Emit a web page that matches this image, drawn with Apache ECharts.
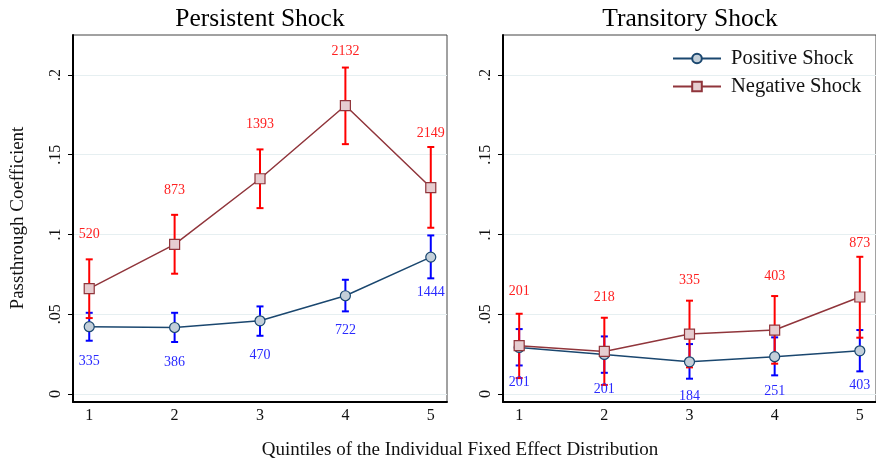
<!DOCTYPE html>
<html>
<head>
<meta charset="utf-8">
<script src="https://cdn.jsdelivr.net/npm/echarts@6/dist/echarts.min.js"></script>
<style>html,body{margin:0;padding:0;background:#fff}#c{width:876px;height:460px}</style>
</head>
<body>
<div id="c"></div>
<script>
var quintiles = [1, 2, 3, 4, 5];
var yTicks = [0, 0.05, 0.1, 0.15, 0.2];

var persPos   = [0.0422, 0.0417, 0.0459, 0.0616, 0.0858];
var persPosLo = [0.0334, 0.0326, 0.0365, 0.0518, 0.0725];
var persPosHi = [0.0509, 0.0509, 0.0549, 0.0716, 0.0994];
var persPosN  = [335, 386, 470, 722, 1444];

var persNeg   = [0.0660, 0.0938, 0.1349, 0.1808, 0.1294];
var persNegLo = [0.0476, 0.0754, 0.1165, 0.1566, 0.1042];
var persNegHi = [0.0844, 0.1123, 0.1533, 0.2046, 0.1548];
var persNegN  = [520, 873, 1393, 2132, 2149];

var tranPos   = [0.0292, 0.0248, 0.0202, 0.0234, 0.0271];
var tranPosLo = [0.0179, 0.0133, 0.0096, 0.0117, 0.0142];
var tranPosHi = [0.0407, 0.0361, 0.0313, 0.0355, 0.0401];
var tranPosN  = [201, 201, 184, 251, 403];

var tranNeg   = [0.0303, 0.0267, 0.0376, 0.0401, 0.0608];
var tranNegLo = [0.0100, 0.0057, 0.0167, 0.0190, 0.0353];
var tranNegHi = [0.0503, 0.0478, 0.0585, 0.0614, 0.0860];
var tranNegN  = [201, 218, 335, 403, 873];

var FONT = '"Liberation Serif", "DejaVu Serif", serif';
var BLUE_LINE = '#1a476f', RED_LINE = '#90353b';
var BLUE_FILL = '#c3cfd9', RED_FILL = '#e6cdd0';
var BLUE_CI = '#0000ff', RED_CI = '#ff0000';

function zip(a, b) { return a.map(function (v, i) { return [v, b[i]]; }); }
function zip3(a, b, c) { return a.map(function (v, i) { return [v, b[i], c[i]]; }); }

function ciSeries(idx, lo, hi, color, z) {
  return {
    type: 'custom', xAxisIndex: idx, yAxisIndex: idx, z: z, silent: true,
    data: zip3(quintiles, lo, hi),
    renderItem: function (params, api) {
      var x = api.value(0);
      var p1 = api.coord([x, api.value(1)]);
      var p2 = api.coord([x, api.value(2)]);
      var w = 3.5;
      var st = { stroke: color, lineWidth: 2 };
      return { type: 'group', children: [
        { type: 'line', shape: { x1: p1[0], y1: p1[1], x2: p2[0], y2: p2[1] }, style: st },
        { type: 'line', shape: { x1: p1[0] - w, y1: p1[1], x2: p1[0] + w, y2: p1[1] }, style: st },
        { type: 'line', shape: { x1: p2[0] - w, y1: p2[1], x2: p2[0] + w, y2: p2[1] }, style: st }
      ] };
    }
  };
}

function lineSeries(idx, name, vals, lineColor, fill, symbol, z) {
  return {
    type: 'line', name: name, xAxisIndex: idx, yAxisIndex: idx, z: z,
    data: zip(quintiles, vals), symbol: symbol, symbolSize: 10, showAllSymbol: true,
    lineStyle: { color: lineColor, width: 1.5 },
    itemStyle: { color: fill, borderColor: lineColor, borderWidth: 1.2 },
    emphasis: { disabled: true }, animation: false
  };
}

function labelSeries(idx, vals, ns, color, dy) {
  return {
    type: 'custom', xAxisIndex: idx, yAxisIndex: idx, z: 10, silent: true,
    data: zip3(quintiles, vals, ns),
    renderItem: function (params, api) {
      var p = api.coord([api.value(0), api.value(1)]);
      return { type: 'text', x: p[0], y: p[1] + dy,
        style: { text: String(api.value(2)), fill: color, font: '14px ' + FONT,
                 textAlign: 'center', textVerticalAlign: 'middle' } };
    }
  };
}

function xAx(idx) {
  return {
    type: 'value', gridIndex: idx, min: 0.81, max: 5.19,
    axisLine: { show: true, onZero: false, lineStyle: { color: '#000', width: 2 } },
    axisTick: { show: false },
    splitLine: { show: false },
    axisLabel: { customValues: quintiles, margin: 6, color: '#111', fontSize: 16, fontFamily: FONT }
  };
}
function yAx(idx) {
  return {
    type: 'value', gridIndex: idx, min: -0.005, max: 0.225,
    axisLine: { show: true, onZero: false, lineStyle: { color: '#000', width: 2 } },
    axisTick: { show: true, length: 5, customValues: yTicks, lineStyle: { color: '#000', width: 1 } },
    splitLine: { show: true, lineStyle: { color: '#e6eff1', width: 1 } },
    axisLabel: { customValues: yTicks, rotate: 90, margin: 9, color: '#111', fontSize: 16, fontFamily: FONT,
      formatter: function (v) { return v === 0 ? '0' : String(+v.toFixed(3)).replace(/^0/, ''); } }
  };
}

var chart = echarts.init(document.getElementById('c'), null, { renderer: 'canvas' });
chart.setOption({
  animation: false,
  backgroundColor: '#fff',
  title: [
    { text: 'Persistent Shock', left: 260, top: 6, textAlign: 'center', padding: 0,
      textStyle: { fontFamily: FONT, fontSize: 25.5, fontWeight: 'normal', color: '#000' } },
    { text: 'Transitory Shock', left: 690, top: 6, textAlign: 'center', padding: 0,
      textStyle: { fontFamily: FONT, fontSize: 25.5, fontWeight: 'normal', color: '#000' } }
  ],
  grid: [
    { left: 73, top: 35, width: 374, height: 367, show: true, borderColor: '#444', borderWidth: 1 },
    { left: 503, top: 35, width: 374, height: 367, show: true, borderColor: '#444', borderWidth: 1 }
  ],
  xAxis: [xAx(0), xAx(1)],
  yAxis: [yAx(0), yAx(1)],
  legend: {
    data: ['Positive Shock', 'Negative Shock'], orient: 'vertical', left: 667, top: 43,
    itemWidth: 48, itemHeight: 12, itemGap: 7,
    textStyle: { fontFamily: FONT, fontSize: 20.5, color: '#111', padding: [0, 0, 0, 5] }
  },
  graphic: [
    { type: 'text', x: 18, y: 218, rotation: Math.PI / 2,
      style: { text: 'Passthrough Coefficient', font: '19px ' + FONT, fill: '#111',
               textAlign: 'center', textVerticalAlign: 'middle' } },
    { type: 'text', x: 460, y: 450,
      style: { text: 'Quintiles of the Individual Fixed Effect Distribution', font: '19px ' + FONT, fill: '#111',
               textAlign: 'center', textVerticalAlign: 'middle' } }
  ],
  series: [
    ciSeries(0, persPosLo, persPosHi, BLUE_CI, 2),
    ciSeries(0, persNegLo, persNegHi, RED_CI, 3),
    lineSeries(0, 'Positive Shock', persPos, BLUE_LINE, BLUE_FILL, 'circle', 4),
    lineSeries(0, 'Negative Shock', persNeg, RED_LINE, RED_FILL, 'rect', 5),
    labelSeries(0, persPos, persPosN, '#2a2aff', 35),
    labelSeries(0, persNeg, persNegN, '#ff2020', -54),
    ciSeries(1, tranPosLo, tranPosHi, BLUE_CI, 2),
    ciSeries(1, tranNegLo, tranNegHi, RED_CI, 3),
    lineSeries(1, 'Positive Shock', tranPos, BLUE_LINE, BLUE_FILL, 'circle', 4),
    lineSeries(1, 'Negative Shock', tranNeg, RED_LINE, RED_FILL, 'rect', 5),
    labelSeries(1, tranPos, tranPosN, '#2a2aff', 35),
    labelSeries(1, tranNeg, tranNegN, '#ff2020', -54)
  ]
});
</script>
</body>
</html>
